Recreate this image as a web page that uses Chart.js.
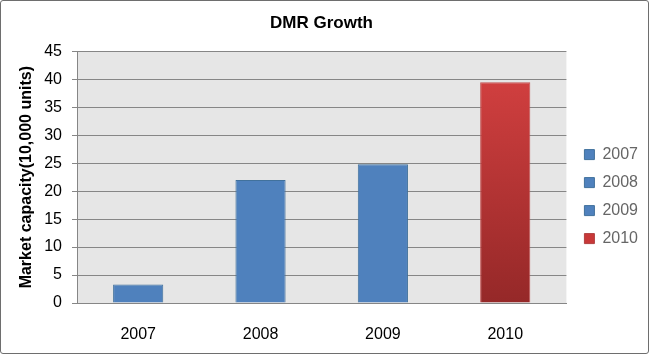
<!DOCTYPE html>
<html>
<head>
<meta charset="utf-8">
<script src="https://cdn.jsdelivr.net/npm/chart.js@4"></script>
<style>
    body { margin: 0; background: #fff; }
    #wrap {
        width: 649px; height: 354px; box-sizing: border-box;
        border: 1px solid #6e6e6e; border-radius: 3px; background: #fff;
    }
</style>
</head>
<body>
<div id="wrap"><canvas id="barChart" width="647" height="352"></canvas></div>
<script>
// データ
const years = ['2007', '2008', '2009', '2010'];
const capacity = [3.3, 22, 24.8, 39.5];
const yTicks = [0, 5, 10, 15, 20, 25, 30, 35, 40, 45];

const blue = '#4f81bd';
const blueEdge = '#41719c';

// 2010年の棒だけ赤のグラデーション
function redGradient(chart) {
    const area = chart.chartArea;
    if (!area) return '#c0392b';
    const g = chart.ctx.createLinearGradient(0, area.top, 0, area.bottom);
    g.addColorStop(0, '#d84242');
    g.addColorStop(1, '#952828');
    return g;
}

function barColor(ctx) {
    return ctx.dataIndex === 3 ? redGradient(ctx.chart) : blue;
}

// プロット領域の背景
const plotBackground = {
    id: 'plotBackground',
    beforeDraw(chart) {
        const a = chart.chartArea;
        chart.ctx.save();
        chart.ctx.fillStyle = '#e6e6e6';
        chart.ctx.fillRect(a.left, a.top, a.right - a.left, a.bottom - a.top);
        chart.ctx.restore();
    }
};

// 凡例を少し右へずらす
const legendShift = {
    id: 'legendShift',
    afterLayout(chart) {
        chart.legend.left += 6;
        chart.legend.right += 6;
    }
};

const font = "'Liberation Sans', Arial, sans-serif";

new Chart(document.getElementById('barChart'), {
    type: 'bar',
    data: {
        labels: years,
        datasets: [{
            data: capacity,
            backgroundColor: barColor,
            borderColor: ctx => ctx.dataIndex === 3 ? '#c35050' : blueEdge,
            borderWidth: 1,
            categoryPercentage: 1,
            barPercentage: 0.41
        }]
    },
    options: {
        responsive: false,
        animation: false,
        layout: { padding: { left: 0, right: 6, top: 0, bottom: 0 } },
        plugins: {
            title: {
                display: true,
                text: 'DMR Growth',
                color: '#000',
                font: { family: font, size: 17, weight: 'bold' },
                padding: { top: 12, bottom: 18 }
            },
            legend: {
                position: 'right',
                title: { display: true, text: ' ', padding: { top: 0, bottom: 20 }, font: { size: 16 } },
                labels: {
                    boxWidth: 10,
                    boxHeight: 10,
                    padding: 12,
                    color: '#000',
                    font: { family: font, size: 16 },
                    generateLabels: chart => years.map((y, i) => ({
                        text: y,
                        fillStyle: i === 3 ? '#c83838' : blue,
                        strokeStyle: i === 3 ? '#b04040' : blueEdge,
                        lineWidth: 1,
                        index: i
                    }))
                }
            },
            tooltip: { enabled: false }
        },
        scales: {
            x: {
                grid: { display: false, drawTicks: false },
                border: { color: '#868686' },
                ticks: { color: '#000', font: { family: font, size: 16 }, padding: 22 },
                afterFit: axis => { axis.height = 50; }
            },
            y: {
                min: 0,
                max: 45,
                afterBuildTicks: axis => { axis.ticks = yTicks.map(v => ({ value: v })); },
                afterFit: axis => { axis.width = 76; },
                grid: { color: '#868686', tickLength: 5 },
                border: { color: '#868686' },
                ticks: { color: '#000', font: { family: font, size: 16 }, padding: 10 },
                title: {
                    display: true,
                    text: 'Market capacity(10,000 units)',
                    color: '#000',
                    font: { family: font, size: 16, weight: 'bold' },
                    padding: { top: 16, bottom: 0 }
                }
            }
        }
    },
    plugins: [plotBackground, legendShift]
});
</script>
</body>
</html>
